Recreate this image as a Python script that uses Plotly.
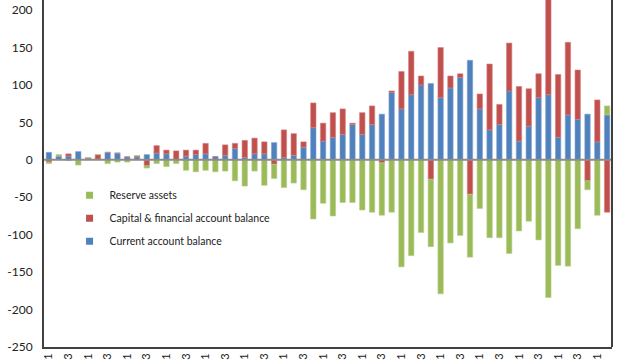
import plotly.graph_objects as go

years = list(range(2000, 2015))
quarters = [f"{y}Q{q}" for y in years for q in (1, 2, 3, 4)][:58]

current_account = [10, 5, 5, 11, 2, 1, 10, 9, 4, 4, 7, 9, 8, 0, 5, 7, 8, 4.5, 6, 15,
                   3, 8, 8, 23, 3, 6, 17, 43, 25, 30, 34, 47, 34, 47, 61, 90, 68, 87, 100, 102,
                   83, 96, 110, 133, 68, 40, 47, 92, 25, 45, 83, 87, 30, 60, 54, 61, 24, 60]
capital_financial = [-3, 0, 3, -1, 1, 6, 0, 0, 0, 1.5, -8, 10, 5, 12, 8, 6, 14, 0, 14, 7,
                     23, 21, 16, -6, 37, 29, 7, 33, 24, 33, 34, 2, 29, 25, -4, 2, 50, 58, 12, -26,
                     67, 16, 5, -46, 20, 88, 27, 64, 73, 50, 32, 150, 84, 97, 66, -28, 56, -70]
reserve_assets = [-2, 2, -1, -6, 0, 0, -5, -3, -3, 0, -3, -5, -9, -5, -14, -16, -14, -16, -15, -28,
                  -35, -15, -34, -19, -37, -31, -40, -79, -58, -75, -57, -57, -67, -70, -70, -70, -143, -128, -97, -90,
                  -179, -111, -101, -84, -65, -104, -104, -125, -95, -82, -107, -184, -141, -142, -92, -12, -74, 12]

y_ticks = [-250, -200, -150, -100, -50, 0, 50, 100, 150, 200]
y_tick_labels = ["-250", "-200", "-150", "-100", "-50", "0", "50", "100", "150", "200"]

series = [
    ("Current account balance", current_account, "#4F81BD", "#7FA3D1"),
    ("Capital & financial account balance", capital_financial, "#C0504D", "#D6827F"),
    ("Reserve assets", reserve_assets, "#9BBB59", "#B7CF8A"),
]

fig = go.Figure()
for name, vals, col, edge in series:
    fig.add_trace(go.Bar(x=quarters, y=vals, name=name, marker=dict(color=col, line=dict(color=edge, width=0.6)),
                         showlegend=False))
for name, vals, col, edge in reversed(series):
    fig.add_trace(go.Scatter(x=[None], y=[None], mode="markers", name=name, legendgroup=name,
                             marker=dict(symbol="square", size=7, color=col)))

fig.add_shape(type="line", xref="paper", x0=0, x1=1, yref="y", y0=0, y1=0,
              line=dict(color="#8C8C8C", width=2), layer="above")
fig.add_shape(type="line", xref="paper", x0=1, x1=1, yref="paper", y0=0, y1=1,
              line=dict(color="#404040", width=2), layer="above")

fig.update_layout(
    width=620, height=360,
    margin=dict(l=44, r=8, t=0, b=13),
    barmode="relative", bargap=0.45,
    plot_bgcolor="white", paper_bgcolor="white",
    font=dict(family="Lato", size=11, color="#222222"),
    legend=dict(x=0.045, y=0.479, xanchor="left", yanchor="top", traceorder="grouped",
                tracegroupgap=4, font=dict(size=10.5), bgcolor="rgba(0,0,0,0)"),
)
fig.update_xaxes(type="category", showgrid=False, showline=True, linecolor="#404040", linewidth=2,
                 tickangle=-90, tickmode="array", tickvals=quarters[::2], ticktext=quarters[::2],
                 ticks="", ticklen=0, tickfont=dict(size=11), automargin=False, range=[-0.5, 57.5])
fig.update_yaxes(range=[-250, 213.5], tickmode="array", tickvals=y_ticks, ticktext=y_tick_labels,
                 showgrid=False, zeroline=False, showline=True, linecolor="#404040", linewidth=2,
                 ticks="", ticklen=0, ticklabelstandoff=7, tickfont=dict(size=12), automargin=False)

fig.write_html("out.html", config={"displayModeBar": False},
               post_script="document.body.style.margin='0';document.body.style.overflow='hidden';")
